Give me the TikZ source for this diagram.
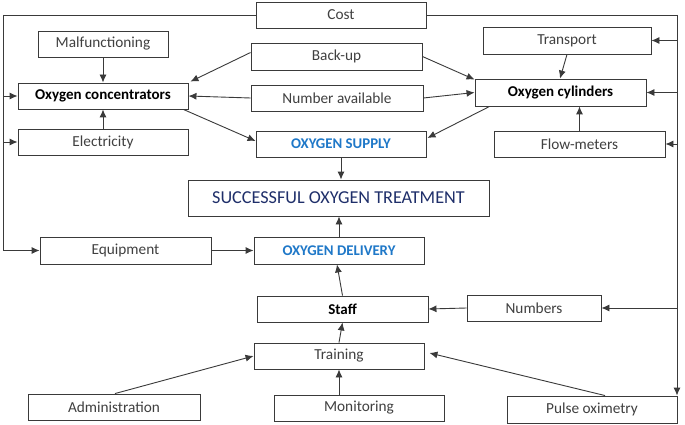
\documentclass[tikz,border=0pt]{standalone}
\usepackage{fontspec}
\setmainfont{Carlito}
\usetikzlibrary{arrows.meta,calc}
\definecolor{txtgray}{HTML}{404040}
\definecolor{linegray}{HTML}{3A3A3A}
\definecolor{oxblue}{HTML}{1F78C8}
\definecolor{navy}{HTML}{1F2F6A}
\begin{document}
\begin{tikzpicture}[x=1pt,y=-1pt,
  box/.style={draw=linegray,line width=0.9pt,rectangle,inner sep=0pt,minimum height=26pt,minimum width=170pt,
    font=\fontsize{15.3}{17}\selectfont,text=txtgray},
  keybox/.style={box,font=\fontsize{15}{17}\selectfont\bfseries,text=black},
  bluebox/.style={box,font=\fontsize{14.8}{17}\selectfont\bfseries,text=oxblue},
  arr/.style={draw=linegray,line width=0.9pt,-{Latex[length=8pt,width=7pt]}},
  ln/.style={draw=linegray,line width=0.9pt}]
\fill[white] (0,0) rectangle (685,425);
\useasboundingbox (0,0) rectangle (685,425);
% nodes
\node[box] (cost) at (341,15) {Cost};
\node[box,minimum width=130pt] (malf) at (103,44) {Malfunctioning};
\node[keybox] (conc) at (103,96) {Oxygen concentrators};
\node[box] (elec) at (103,142) {Electricity};
\node[box,minimum width=171pt,minimum height=27pt] (backup) at (336.5,56.5) {Back-up};
\node[box,minimum width=172pt] (numav) at (337,98) {Number available};
\node[bluebox] (supply) at (341,144) {OXYGEN SUPPLY};
\node[box,minimum width=168pt,minimum height=27pt] (transport) at (567,40.5) {Transport};
\node[keybox,minimum width=171pt,minimum height=27pt] (cyl) at (560.5,92.5) {Oxygen cylinders};
\node[box,minimum width=171pt] (flow) at (579.5,144) {Flow-meters};
\node[box,minimum width=301pt,minimum height=36pt,font=\fontsize{18.2}{20}\selectfont,text=navy] (success) at (338.5,198) {SUCCESSFUL OXYGEN TREATMENT};
\node[box,minimum width=171pt,minimum height=27pt] (equip) at (125.5,250.5) {Equipment};
\node[bluebox,minimum height=27pt] (deliv) at (339,250.5) {OXYGEN DELIVERY};
\node[keybox,minimum width=171pt] (staff) at (342.5,309) {Staff};
\node[box,minimum width=134pt] (numbers) at (534,308) {Numbers};
\node[box] (training) at (339,356) {Training};
\node[box,minimum width=172pt] (admin) at (114,407) {Administration};
\node[box] (monitor) at (359,408) {Monitoring};
\node[box,minimum height=27pt] (pulse) at (592,409.5) {Pulse oximetry};
% cost distribution lines
\coordinate (cl) at (3,15);
\coordinate (cr) at (677,15);
\draw[ln] (cost.west) -- (cl);
\draw[arr] (cl) |- (equip.west);
\draw[arr] (cl |- conc.west) -- (conc.west);
\draw[arr] (cl |- elec.west) -- (elec.west);
\draw[ln] (cost.east) -- (cr);
\draw[arr] (cr) -- (cr |- pulse.north);
\draw[arr] (cr |- transport.east) -- (transport.east);
\draw[arr] (cr |- cyl.east) -- (cyl.east);
\draw[arr] (cr |- flow.east) -- (flow.east);
\draw[arr] (cr |- numbers.east) -- (numbers.east);
% inputs to concentrators
\draw[arr] (malf.south) -- (conc.north);
\draw[arr] (elec.north) -- (conc.south);
\draw[arr] ($(backup.west)+(0,-4)$) -- ($(conc.north east)+(2,-1)$);
\draw[arr] (numav.west) -- (conc.east);
\draw[arr] ($(conc.south east)+(-5,0)$) -- ($(supply.west)+(0,-3)$);
% inputs to cylinders
\draw[arr] ($(backup.east)+(0,0)$) -- ($(cyl.north west)+(0,1)$);
\draw[arr] (numav.east) -- (cyl.west);
\draw[arr] (transport.south) -- ($(cyl.north)+(-0.5,0)$);
\draw[arr] ($(flow.north)+(0,0)$) -- (flow.north |- cyl.south);
\draw[arr] ($(cyl.south west)+(15,0)$) -- ($(supply.east)+(1,-6)$);
% to treatment
\draw[arr] (supply.south) -- (supply.south |- success.north);
\draw[arr] (deliv.north) -- (deliv.north |- success.south);
% delivery
\draw[arr] (equip.east) -- (deliv.west);
\draw[arr] (staff.north) -- ($(deliv.south)+(-2,0)$);
\draw[arr] (training.north) -- (staff.south);
\draw[arr] (numbers.west) -- (staff.east);
\draw[arr] (training.south |- monitor.north) -- (training.south);
\draw[arr] ($(admin.north)+(1,0)$) -- (training.west);
\draw[arr] ($(pulse.north)+(13,0)$) -- ($(training.east)+(5,-3)$);
\end{tikzpicture}
\end{document}
